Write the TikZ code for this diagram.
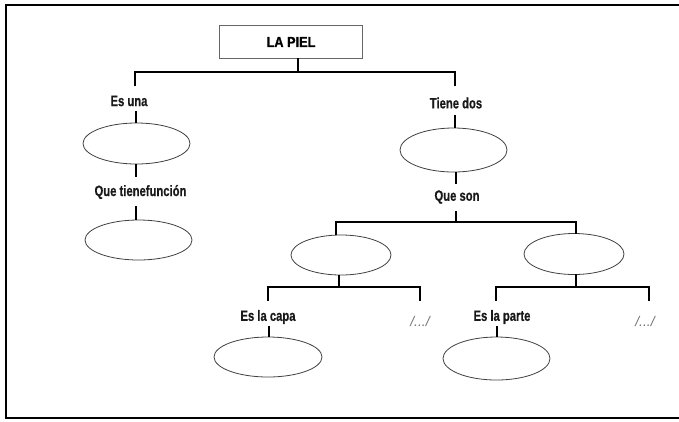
\documentclass[tikz,border=0pt]{standalone}
\usepackage{fontspec}
\setmainfont{Liberation Sans}[FakeStretch=0.75, BoldFeatures={FakeBold=0.6}]
\newfontfamily\titlefont{Liberation Sans}[FakeStretch=0.88, BoldFeatures={FakeBold=1.2}]
\newfontfamily\etcfont{Liberation Sans}
\usetikzlibrary{shapes.geometric}
\begin{document}
\begin{tikzpicture}[x=1pt,y=-1pt,
  lbl/.style={font=\bfseries\fontsize{15}{17}\selectfont, inner sep=0pt, text=black!90},
  oval/.style={ellipse, draw=black!75, line width=0.8pt, inner sep=0pt},
  conn/.style={line width=1.6pt, line cap=rect},
  etc/.style={font=\etcfont\itshape\fontsize{14}{16}\selectfont, text=black!55, inner sep=0pt},
  frame/.style={line width=2pt}]
\useasboundingbox (0,0) rectangle (679,421);
% outer frame (right side cut off)
\draw[frame] (690,5) -- (6,5) -- (6,418) -- (690,418);
% title box
\node[draw=black!60, line width=0.8pt, minimum width=143pt, minimum height=33pt, inner sep=0pt,
      font=\titlefont\bfseries\fontsize{14.5}{16}\selectfont] (piel) at (291,42) {LA PIEL};
% left branch
\node[lbl] (esuna) at (129,101) {Es una};
\node[oval, minimum width=107pt, minimum height=41pt] (e1) at (136.5,143.5) {};
\node[lbl] (quetiene) at (140.5,192) {Que tienefunción};
\node[oval, minimum width=107pt, minimum height=40pt] (e2) at (138.5,240) {};
% right branch
\node[lbl] (tienedos) at (456,103) {Tiene dos};
\node[oval, minimum width=107pt, minimum height=44pt] (e3) at (453.5,150) {};
\node[lbl] (queson) at (457,197) {Que son};
\node[oval, minimum width=100pt, minimum height=40pt] (eA) at (341,255) {};
\node[oval, minimum width=100pt, minimum height=41pt] (eB) at (574,254) {};
\node[lbl] (capa) at (268,317) {Es la capa};
\node[etc] (etcA) at (420,321) {/.../};
\node[oval, minimum width=108pt, minimum height=40pt] (eC) at (268,357) {};
\node[lbl] (parte) at (502,317) {Es la parte};
\node[etc] (etcB) at (645,321) {/.../};
\node[oval, minimum width=107pt, minimum height=43pt] (eD) at (496.5,358.5) {};
% junction coordinates
\coordinate (j0) at (298,72);
\coordinate (jL) at (135,72);
\coordinate (jR) at (455,72);
\coordinate (j1) at (456,222);
\coordinate (j1L) at (336,222);
\coordinate (j1R) at (576,222);
\coordinate (j2) at (339,287);
\coordinate (j2L) at (268,287);
\coordinate (j2R) at (420,287);
\coordinate (j3) at (576,287);
\coordinate (j3L) at (496,287);
\coordinate (j3R) at (649,287);
% connectors
\draw[conn] (piel.south -| j0) -- (j0);
\draw[conn] (jL |- 0,85) -- (jL) -- (jR) -- (jR |- 0,85);
\draw[conn, line width=1.2pt] (136,112) -- (e1.north -| 136,0);
\draw[conn, line width=1.2pt] (e1.south -| 136,0) -- (136,176);
\draw[conn, line width=1.2pt] (136,207) -- (e2.north -| 136,0);
\draw[conn, line width=1.2pt] (455,116) -- (e3.north -| 455,0);
\draw[conn, line width=1.2pt] (e3.south -| 456,0) -- (456,183);
\draw[conn] (456,212) -- (j1);
\draw[conn] (j1L |- eA.north) -- (j1L) -- (j1R) -- (j1R |- eB.north);
\draw[conn] (eA.south -| j2) -- (j2);
\draw[conn] (j2L |- 0,300) -- (j2L) -- (j2R) -- (j2R |- 0,300);
\draw[conn, line width=1.2pt] (269,327) -- (eC.north -| 269,0);
\draw[conn] (eB.south -| j3) -- (j3);
\draw[conn] (j3L |- 0,300) -- (j3L) -- (j3R) -- (j3R |- 0,300);
\draw[conn, line width=1.2pt] (497,327) -- (eD.north -| 497,0);
\end{tikzpicture}
\end{document}
